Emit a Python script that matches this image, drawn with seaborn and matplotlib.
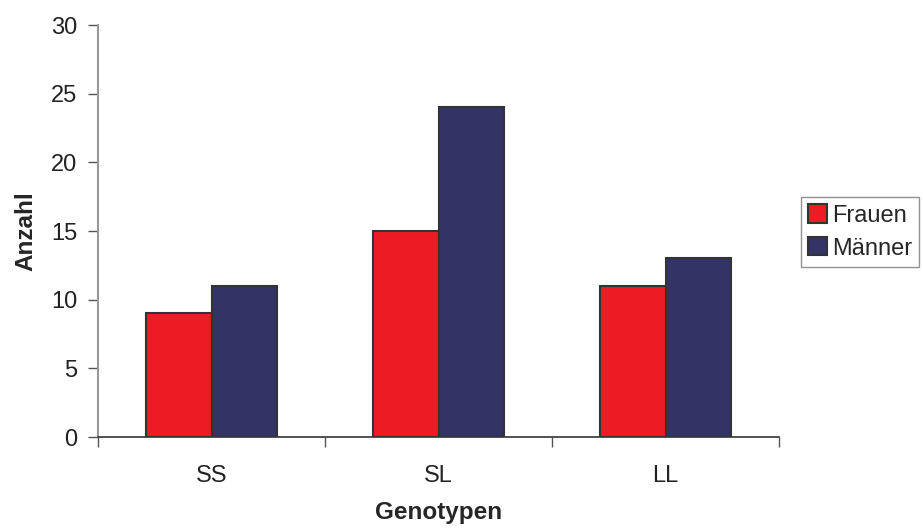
import matplotlib
matplotlib.use("Agg")
import matplotlib.pyplot as plt
import seaborn as sns
import pandas as pd

genotypes = ["SS", "SL", "LL"]
frauen = [9, 15, 11]
maenner = [11, 24, 13]
series_names = ["Frauen", "Männer"]
y_ticks = [0, 5, 10, 15, 20, 25, 30]

df = pd.DataFrame({
    "Genotypen": genotypes * 2,
    "Anzahl": frauen + maenner,
    "Geschlecht": [series_names[0]] * 3 + [series_names[1]] * 3,
})

sns.set_theme(style="white")
plt.rcParams["font.family"] = ["Liberation Sans", "DejaVu Sans"]

fig = plt.figure(figsize=(9.23, 5.32), dpi=100)
ax = fig.add_axes([98 / 923, 1 - 437 / 532, (779 - 98) / 923, (437 - 25) / 532])

sns.barplot(data=df, x="Genotypen", y="Anzahl", hue="Geschlecht",
            palette=["#ED1C24", "#333366"], width=0.575, saturation=1,
            edgecolor="#333333", linewidth=1.5, ax=ax)

ax.set_xlim(-0.5, 2.5)
ax.set_ylim(0, 30)
ax.set_yticks(y_ticks)
ax.set_yticklabels([str(t) for t in y_ticks], fontsize=17, color="#222222")
ax.set_xticks(range(3))
ax.set_xticklabels(genotypes, fontsize=17, color="#222222")
ax.set_xticks([-0.5, 0.5, 1.5, 2.5], minor=True)
ax.tick_params(axis="x", which="major", length=0, pad=20)
ax.tick_params(axis="x", which="minor", length=7, width=1, color="#555555", direction="out", bottom=True)
ax.tick_params(axis="y", length=7, width=1, color="#555555", direction="out", left=True, pad=8)

for s in ["top", "right"]:
    ax.spines[s].set_visible(False)
ax.spines["left"].set_color("#999999")
ax.spines["left"].set_linewidth(1.5)
ax.spines["bottom"].set_color("#333333")
ax.spines["bottom"].set_linewidth(1.2)

ax.set_xlabel("Genotypen", fontsize=17.5, fontweight="bold", labelpad=10)
ax.set_ylabel("Anzahl", fontsize=17.5, fontweight="bold", labelpad=10)

handles, labels = ax.get_legend_handles_labels()
leg = ax.legend(handles, labels, loc="center left", bbox_to_anchor=(801 / 923, 1 - 232 / 532),
                bbox_transform=fig.transFigure, fontsize=17, frameon=True, fancybox=False,
                handlelength=0.8, handleheight=0.8, handletextpad=0.2, borderpad=0.3,
                labelspacing=0.45, borderaxespad=0)
leg.get_frame().set_edgecolor("#777777")
leg.get_frame().set_linewidth(1)

fig.savefig("out.png", dpi=100)
